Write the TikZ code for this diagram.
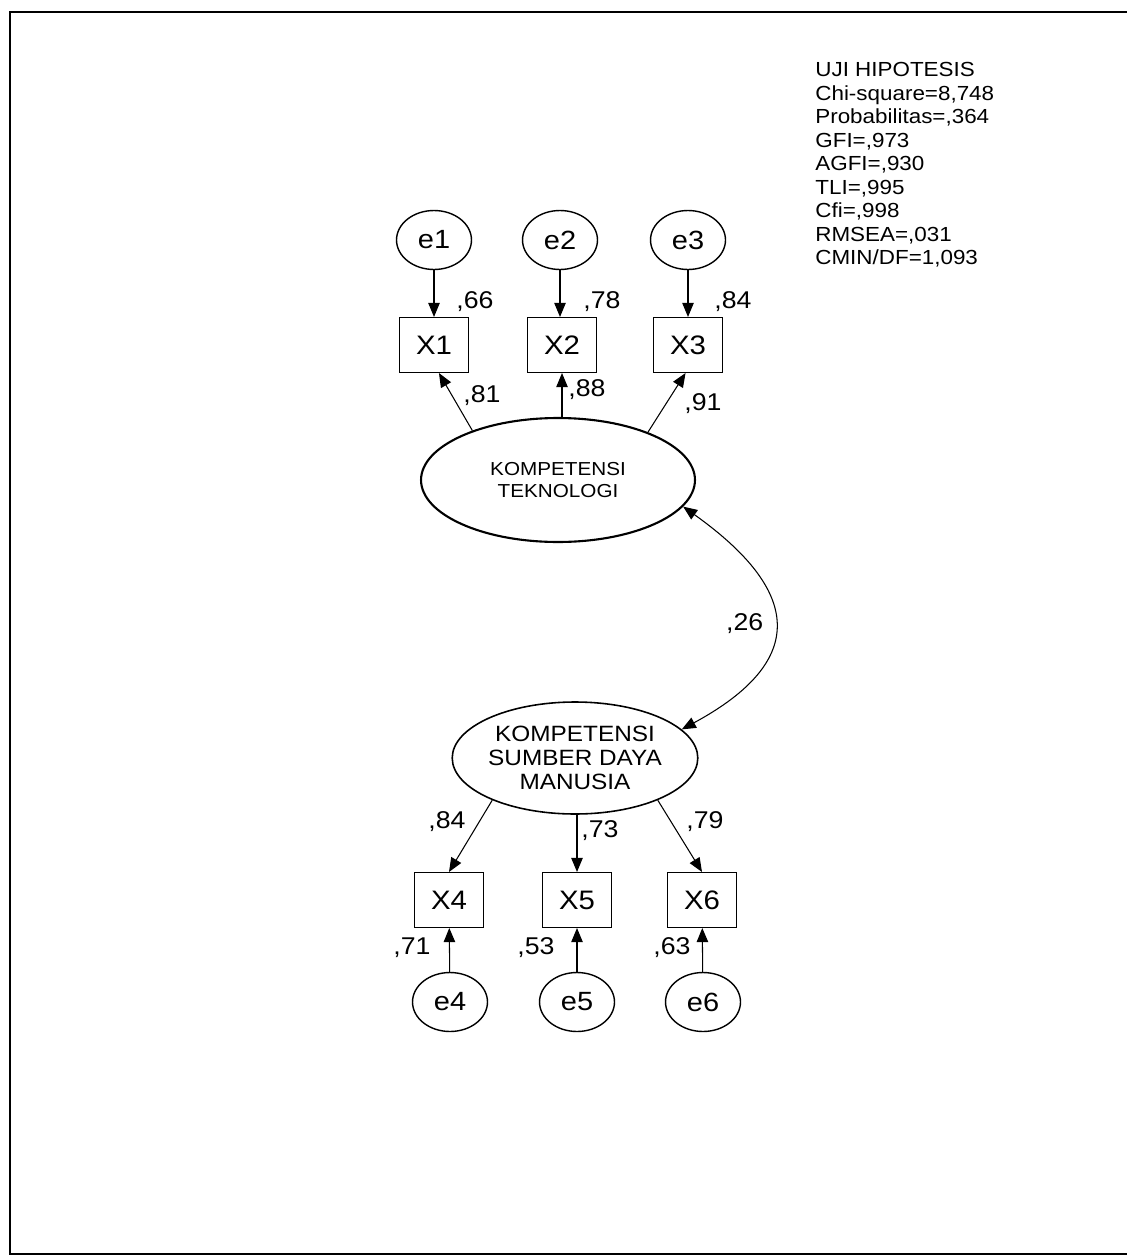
\documentclass[tikz,border=0pt]{standalone}
\usepackage{fontspec}
\setmainfont[FakeStretch=1.1]{Liberation Sans}
\usetikzlibrary{arrows.meta,shapes.geometric}

\begin{document}
\begin{tikzpicture}[x=0.02cm, y=-0.02cm, >={Triangle[length=8pt,width=6.5pt]},
  err/.style={draw, ellipse, line width=0.8pt, minimum width=1.5cm,
    minimum height=1.18cm, inner sep=0pt, font=\fontsize{15}{17}\selectfont},
  obs/.style={draw, line width=0.6pt, minimum width=1.38cm,
    minimum height=1.1cm, inner sep=0pt, font=\fontsize{15.2}{18}\selectfont},
  lat/.style={draw, ellipse, inner sep=0pt, align=center},
  est/.style={font=\fontsize{13.8}{15}\selectfont, inner sep=1pt},
  lnk/.style={->, line width=0.6pt}]
\useasboundingbox (0,0) rectangle (1126,1257);
\draw[line width=1.2pt] (10,12) rectangle (1140,1254);
% fit statistics
\node[anchor=north west, inner sep=0pt, align=left,
  font=\fontsize{11.6}{13.4}\selectfont] (stats) at (815,62)
  {UJI HIPOTESIS\\Chi-square=8,748\\Probabilitas=,364\\GFI=,973\\AGFI=,930\\
   TLI=,995\\Cfi=,998\\RMSEA=,031\\CMIN/DF=1,093};
% latent variables
\node[lat, line width=1.2pt, minimum width=5.48cm, minimum height=2.48cm,
  font=\fontsize{10.7}{13}\selectfont] (kt) at (558,480) {KOMPETENSI\\TEKNOLOGI};
\node[lat, line width=0.9pt, minimum width=4.88cm, minimum height=2.24cm,
  font=\fontsize{12.6}{13.6}\selectfont] (ksdm) at (575,758)
  {KOMPETENSI\\SUMBER DAYA\\MANUSIA};
% indicators and errors, top
\node[obs] (x1) at (434,345) {X1};
\node[obs] (x2) at (562,345) {X2};
\node[obs] (x3) at (688,345) {X3};
\node[err] (e1) at (434,240) {e1};
\node[err] (e2) at (560,240) {e2};
\node[err] (e3) at (688,240) {e3};
% indicators and errors, bottom
\node[obs] (x4) at (449,900) {X4};
\node[obs] (x5) at (577,900) {X5};
\node[obs] (x6) at (702,900) {X6};
\node[err] (e4) at (450,1002) {e4};
\node[err] (e5) at (577,1002) {e5};
\node[err] (e6) at (703,1002) {e6};
% paths
\draw[lnk] (e1) -- (x1);
\draw[lnk] (e2.south) -- (e2.south |- x2.north);
\draw[lnk] (e3) -- (x3);
\draw[lnk] (kt.150) -- (x1.-80);
\draw[lnk] (kt.north -| x2) -- (x2.south);
\draw[lnk] (kt.28) -- (x3.-95);
\draw[lnk] (ksdm.207) -- (x4.north);
\draw[lnk] (ksdm.south -| x5) -- (x5.north);
\draw[lnk] (ksdm.-27) -- (x6.north);
\draw[lnk] (e4) -- (x4);
\draw[lnk] (e5) -- (x5);
\draw[lnk] (e6) -- (x6);
\draw[<->, line width=0.6pt] (kt.-12) .. controls (800,590) and (810,660) ..
  node[est, left=5pt] (r26) {,26} (ksdm.15);
% estimates
\node[est] (l66) at (475,302) {,66};
\node[est] (l78) at (602,302) {,78};
\node[est] (l84a) at (733,302) {,84};
\node[est] (l81) at (482,396) {,81};
\node[est] (l88) at (587,390) {,88};
\node[est] (l91) at (703,404) {,91};
\node[est] (l84b) at (447,822) {,84};
\node[est] (l73) at (600,831) {,73};
\node[est] (l79) at (705,822) {,79};
\node[est] (l71) at (412,948) {,71};
\node[est] (l53) at (536,948) {,53};
\node[est] (l63) at (672,948) {,63};
\end{tikzpicture}
\end{document}
